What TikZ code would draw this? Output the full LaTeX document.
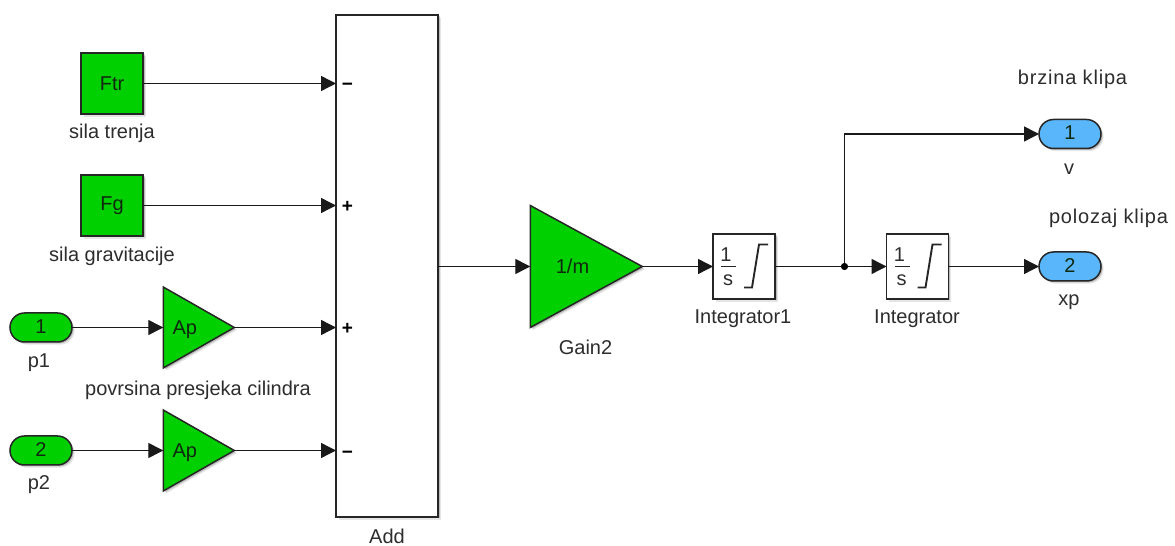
\documentclass[tikz,border=0pt]{standalone}
\usepackage{fontspec}
\setmainfont{Liberation Sans}
\usetikzlibrary{arrows.meta,shapes.geometric,shapes.misc,shadows,calc}
\definecolor{simgreen}{RGB}{0,208,0}
\definecolor{simblue}{RGB}{90,182,250}
\definecolor{txt}{RGB}{45,45,45}
\definecolor{blocktxt}{RGB}{15,40,15}
\newcommand{\inblock}[3]{\makebox[0pt]{\hspace*{#1}\smash{\raisebox{#2}{#3}}}}
\tikzset{
  softshadow/.style={general shadow={shadow xshift=1.5pt,shadow yshift=-1.5pt,fill=black,opacity=.18},
                     general shadow={shadow xshift=2.6pt,shadow yshift=-2.6pt,fill=black,opacity=.10}},
  blockbase/.style={draw=black!85,line width=1.5pt,softshadow,inner sep=0pt,outer sep=0pt,font=\fontsize{20}{20}\selectfont,text=blocktxt},
  boxblock/.style={blockbase,rectangle,minimum width=#1,minimum height=61pt},
  gainblock/.style={blockbase,isosceles triangle,isosceles triangle stretches,shape border rotate=0,fill=simgreen},
  pill/.style={blockbase,rounded rectangle,minimum width=62pt,minimum height=29pt},
  intblock/.style={blockbase,rectangle,fill=white,minimum width=62pt,minimum height=65pt},
  lbl/.style={font=\fontsize{20}{20}\selectfont,text=txt,inner sep=0pt},
  signmark/.style={font=\fontsize{19}{19}\selectfont\bfseries,text=black,inner sep=0pt},
  wire/.style={line width=1.4pt,draw=black!90,-{Triangle[length=15pt,width=15pt]}},
  plainwire/.style={line width=1.4pt,draw=black!90},
  intsym/.style={line width=1.9pt,draw=black!85},
}
\newcommand{\intface}[1]{%
  \node[font=\fontsize{20}{20}\selectfont,text=txt,inner sep=0pt] at ($(#1.center)+(-18,12)$) {1};
  \node[font=\fontsize{20}{20}\selectfont,text=txt,inner sep=0pt] at ($(#1.center)+(-16,-14)$) {s};
  \draw[line width=1.5pt,draw=black!85] ($(#1.center)+(-23,0)$) -- ($(#1.center)+(-8,0)$);
  \draw[intsym] ($(#1.center)+(0,-21)$) -- ($(#1.center)+(8,-21)$) -- ($(#1.center)+(15,22)$) -- ($(#1.center)+(24,22)$);
}
\begin{document}
\begin{tikzpicture}[x=1pt,y=1pt]
\useasboundingbox (0,0) rectangle (1175,546);
\fill[white] (0,0) rectangle (1175,546);
% y in picture = 546 - pixel y
\node[boxblock=62pt,fill=simgreen] (ftr) at (112,462.5) {Ftr};
\node[boxblock=62pt,fill=simgreen] (fg) at (112,340.5) {Fg};
\node[blockbase,rectangle,fill=white,minimum width=102pt,minimum height=502pt] (add) at (387,280) {};
\node[pill,fill=simgreen] (p1) at (41,218.5) {\inblock{0pt}{-6pt}{1}};
\node[pill,fill=simgreen] (p2) at (41,95.5) {\inblock{0pt}{-6pt}{2}};
\node[gainblock,minimum width=81pt,minimum height=71pt] (ap1) at (186.8,218.5) {\inblock{-4pt}{-7pt}{Ap}};
\node[gainblock,minimum width=81pt,minimum height=71pt] (ap2) at (186.8,95.5) {\inblock{-4pt}{-7pt}{Ap}};
\node[gainblock,minimum width=122pt,minimum height=112pt] (gain) at (566.5,279.5) {\inblock{12pt}{-7pt}{1/m}};
\node[intblock] (int1) at (744,279.5) {};
\node[intblock] (int2) at (917.5,279.5) {};
\node[pill,fill=simblue] (out1) at (1070,412) {\inblock{0pt}{-6pt}{1}};
\node[pill,fill=simblue] (out2) at (1070,279.5) {\inblock{0pt}{-6pt}{2}};
\intface{int1}
\intface{int2}
% signs
\node[signmark] (s1) at (347.5,459.5) {−};
\node[signmark] (s2) at (347.5,339.5) {+};
\node[signmark] (s3) at (347.5,217.5) {+};
\node[signmark] (s4) at (347.5,91.5) {−};
% captions
\node[lbl] (c1) at (112,412.5) {sila trenja};
\node[lbl] (c2) at (112,290) {sila gravitacije};
\node[lbl] (c3) at (39,183.5) {p1};
\node[lbl] (c4) at (39,61.5) {p2};
\node[lbl] (c5) at (198,156) {povrsina presjeka cilindra};
\node[lbl] (c6) at (387,10) {Add};
\node[lbl] (c7) at (585.5,199) {Gain2};
\node[lbl] (c8) at (743,227) {Integrator1};
\node[lbl] (c9) at (917,227) {Integrator};
\node[lbl] (c10) at (1069,377) {v};
\node[lbl] (c11) at (1069,243.5) {xp};
\node[lbl,font=\fontsize{20}{20}\selectfont\addfontfeature{LetterSpace=4}] (c12) at (1072.5,466.5) {brzina klipa};
\node[lbl,font=\fontsize{20}{20}\selectfont\addfontfeature{LetterSpace=4}] (c13) at (1108.5,327.5) {polozaj klipa};
% connectors
\draw[wire] (ftr.east) -- (ftr.east -| add.west);
\draw[wire] (fg.east) -- (fg.east -| add.west);
\draw[wire] (p1.east) -- (ap1.west);
\draw[wire] (p2.east) -- (ap2.west);
\draw[wire] (ap1.east) -- (ap1.east -| add.west);
\draw[wire] (ap2.east) -- (ap2.east -| add.west);
\draw[wire] (add.east |- gain.west) -- (gain.west);
\draw[wire] (gain.east) -- (int1.west);
\coordinate (jn) at (844.5,279.5);
\draw[plainwire] (int1.east) -- (jn);
\draw[wire] (jn) -- (int2.west);
\draw[wire] (jn) |- (out1.west);
\draw[wire] (int2.east) -- (out2.west);
\fill[black] (jn) circle (3.6pt);
\end{tikzpicture}
\end{document}
